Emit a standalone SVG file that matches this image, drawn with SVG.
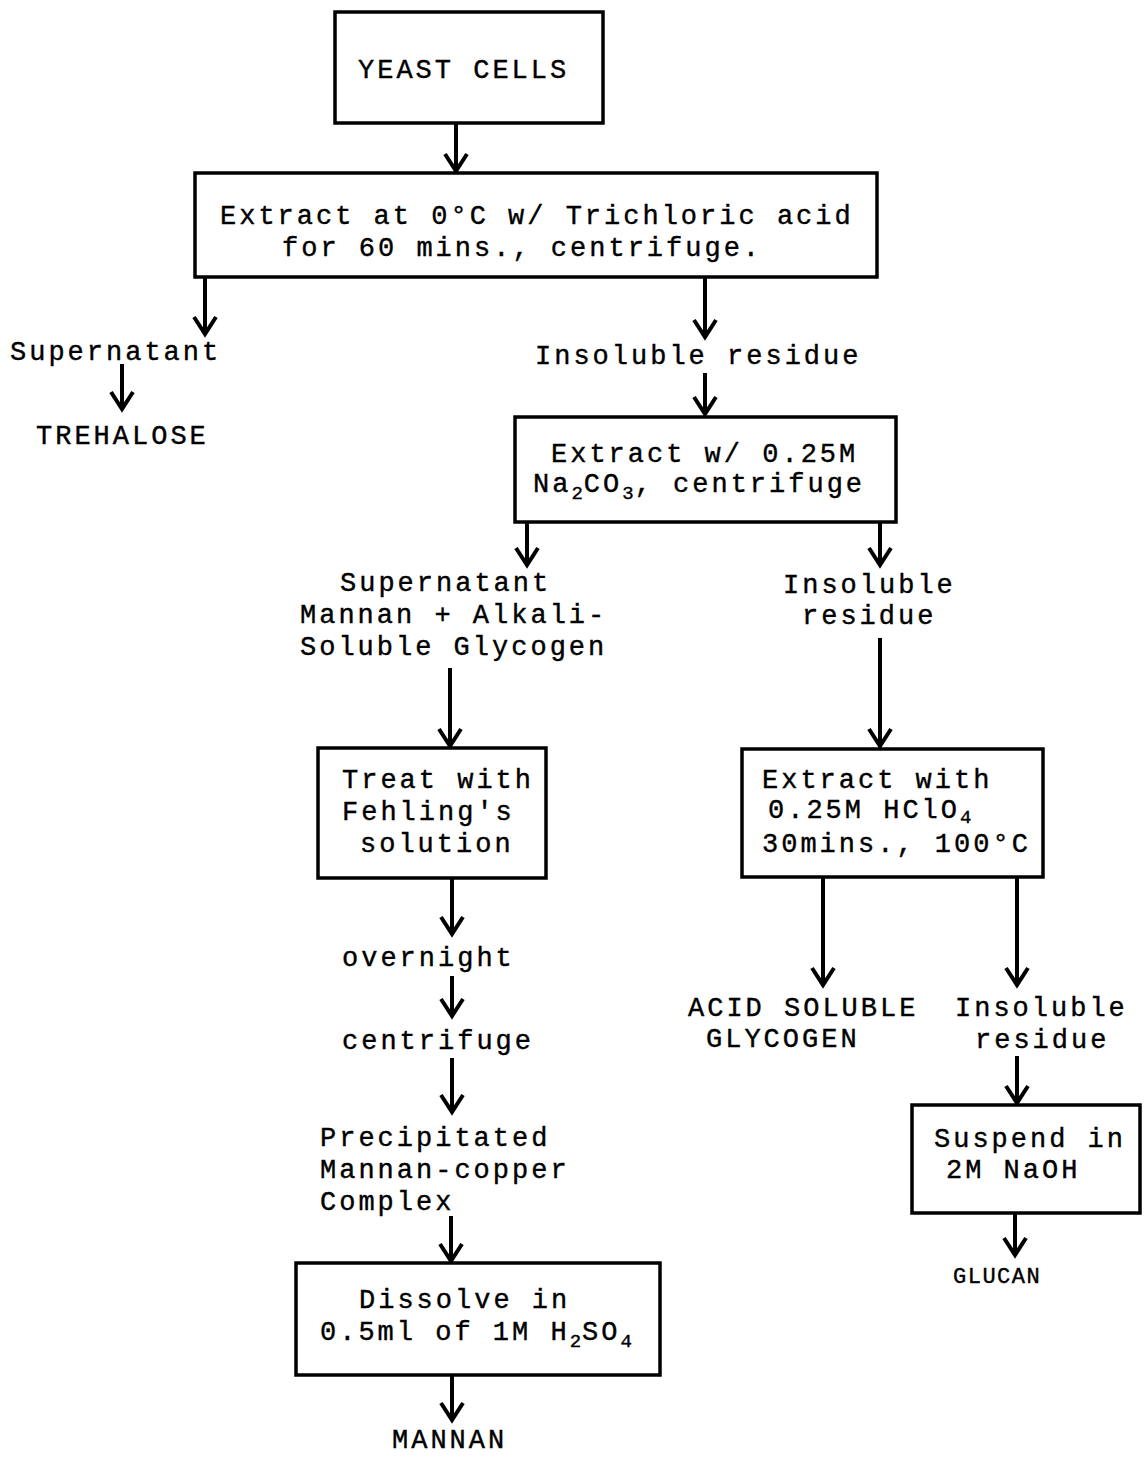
<svg xmlns="http://www.w3.org/2000/svg" width="1144" height="1458" viewBox="0 0 1144 1458">
<defs>
<marker id="arr" markerUnits="userSpaceOnUse" markerWidth="34" markerHeight="34" viewBox="-17 -17 34 34" refX="0" refY="0" orient="auto" overflow="visible">
<path d="M-17,-11 L0,0 L-17,11" fill="none" stroke="#000" stroke-width="4" stroke-linejoin="miter"/>
</marker>
<style>
.box{fill:#fff;stroke:#000;stroke-width:3.5}
.t{font-family:"Liberation Mono","Courier New",monospace;font-size:27px;letter-spacing:3px;fill:#000;stroke:#000;stroke-width:0.4}
.s{font-size:19px;letter-spacing:1px}
.c line{stroke:#000;stroke-width:4;marker-end:url(#arr)}
</style>
</defs>
<rect width="1144" height="1458" fill="#fff"/>
<g class="c" id="connectors">
<line x1="456" y1="124" x2="456" y2="171"/>
<line x1="205" y1="278" x2="205" y2="334"/>
<line x1="705" y1="278" x2="705" y2="337"/>
<line x1="122" y1="364" x2="122" y2="409"/>
<line x1="705" y1="373" x2="705" y2="414"/>
<line x1="527" y1="522" x2="527" y2="565"/>
<line x1="880" y1="522" x2="880" y2="565"/>
<line x1="450" y1="668" x2="450" y2="746"/>
<line x1="880" y1="638" x2="880" y2="746"/>
<line x1="452" y1="878" x2="452" y2="934"/>
<line x1="452" y1="976" x2="452" y2="1016"/>
<line x1="452" y1="1058" x2="452" y2="1112"/>
<line x1="451" y1="1216" x2="451" y2="1261"/>
<line x1="452" y1="1376" x2="452" y2="1420"/>
<line x1="823" y1="878" x2="823" y2="985"/>
<line x1="1017" y1="878" x2="1017" y2="985"/>
<line x1="1017" y1="1056" x2="1017" y2="1103"/>
<line x1="1015" y1="1214" x2="1015" y2="1255"/>
</g>
<g id="yeast"><rect class="box" x="335" y="12" width="268" height="111"/><text class="t" x="358" y="78">YEAST CELLS</text></g>
<g id="extract1"><rect class="box" x="195" y="173" width="682" height="104"/>
<text class="t" x="220" y="224">Extract at 0°C w/ Trichloric acid</text>
<text class="t" x="282" y="256">for 60 mins., centrifuge.</text></g>
<g id="supernatant1"><text class="t" x="10" y="360">Supernatant</text></g>
<g id="trehalose"><text class="t" x="36" y="444">TREHALOSE</text></g>
<g id="insoluble1"><text class="t" x="535" y="364">Insoluble residue</text></g>
<g id="extract2"><rect class="box" x="515" y="417" width="381" height="105"/>
<text class="t" x="551" y="462">Extract w/ 0.25M</text>
<text class="t" x="533" y="492">Na<tspan class="s" dy="7">2</tspan><tspan dy="-7">CO</tspan><tspan class="s" dy="7">3</tspan><tspan dy="-7">, centrifuge</tspan></text></g>
<g id="supernatant2"><text class="t" x="340" y="591">Supernatant</text>
<text class="t" x="300" y="623">Mannan + Alkali-</text>
<text class="t" x="300" y="655">Soluble Glycogen</text></g>
<g id="insoluble2"><text class="t" x="783" y="593">Insoluble</text>
<text class="t" x="802" y="624">residue</text></g>
<g id="fehling"><rect class="box" x="318" y="748" width="228" height="130"/>
<text class="t" x="342" y="788">Treat with</text>
<text class="t" x="342" y="820">Fehling's</text>
<text class="t" x="360" y="852">solution</text></g>
<g id="extract3"><rect class="box" x="742" y="749" width="301" height="128"/>
<text class="t" x="762" y="788">Extract with</text>
<text class="t" x="768" y="818">0.25M HClO<tspan class="s" dy="5">4</tspan></text>
<text class="t" x="762" y="852">30mins., 100°C</text></g>
<g id="overnight"><text class="t" x="342" y="966">overnight</text></g>
<g id="centrifuge"><text class="t" x="342" y="1049">centrifuge</text></g>
<g id="precipitated"><text class="t" x="320" y="1146">Precipitated</text>
<text class="t" x="320" y="1178">Mannan-copper</text>
<text class="t" x="320" y="1210">Complex</text></g>
<g id="dissolve"><rect class="box" x="296" y="1263" width="364" height="112"/>
<text class="t" x="359" y="1308">Dissolve in</text>
<text class="t" x="320" y="1340">0.5ml of 1M H<tspan class="s" dy="7">2</tspan><tspan dy="-7">SO</tspan><tspan class="s" dy="7">4</tspan></text></g>
<g id="mannan"><text class="t" x="392" y="1448">MANNAN</text></g>
<g id="acidsoluble"><text class="t" x="688" y="1016">ACID SOLUBLE</text>
<text class="t" x="706" y="1047">GLYCOGEN</text></g>
<g id="insoluble3"><text class="t" x="955" y="1016">Insoluble</text>
<text class="t" x="975" y="1048">residue</text></g>
<g id="suspend"><rect class="box" x="912" y="1105" width="228" height="108"/>
<text class="t" x="934" y="1147">Suspend in</text>
<text class="t" x="946" y="1178">2M NaOH</text></g>
<g id="glucan"><text class="t" x="953" y="1283" style="font-size:22px;letter-spacing:1.5px">GLUCAN</text></g>
</svg>
